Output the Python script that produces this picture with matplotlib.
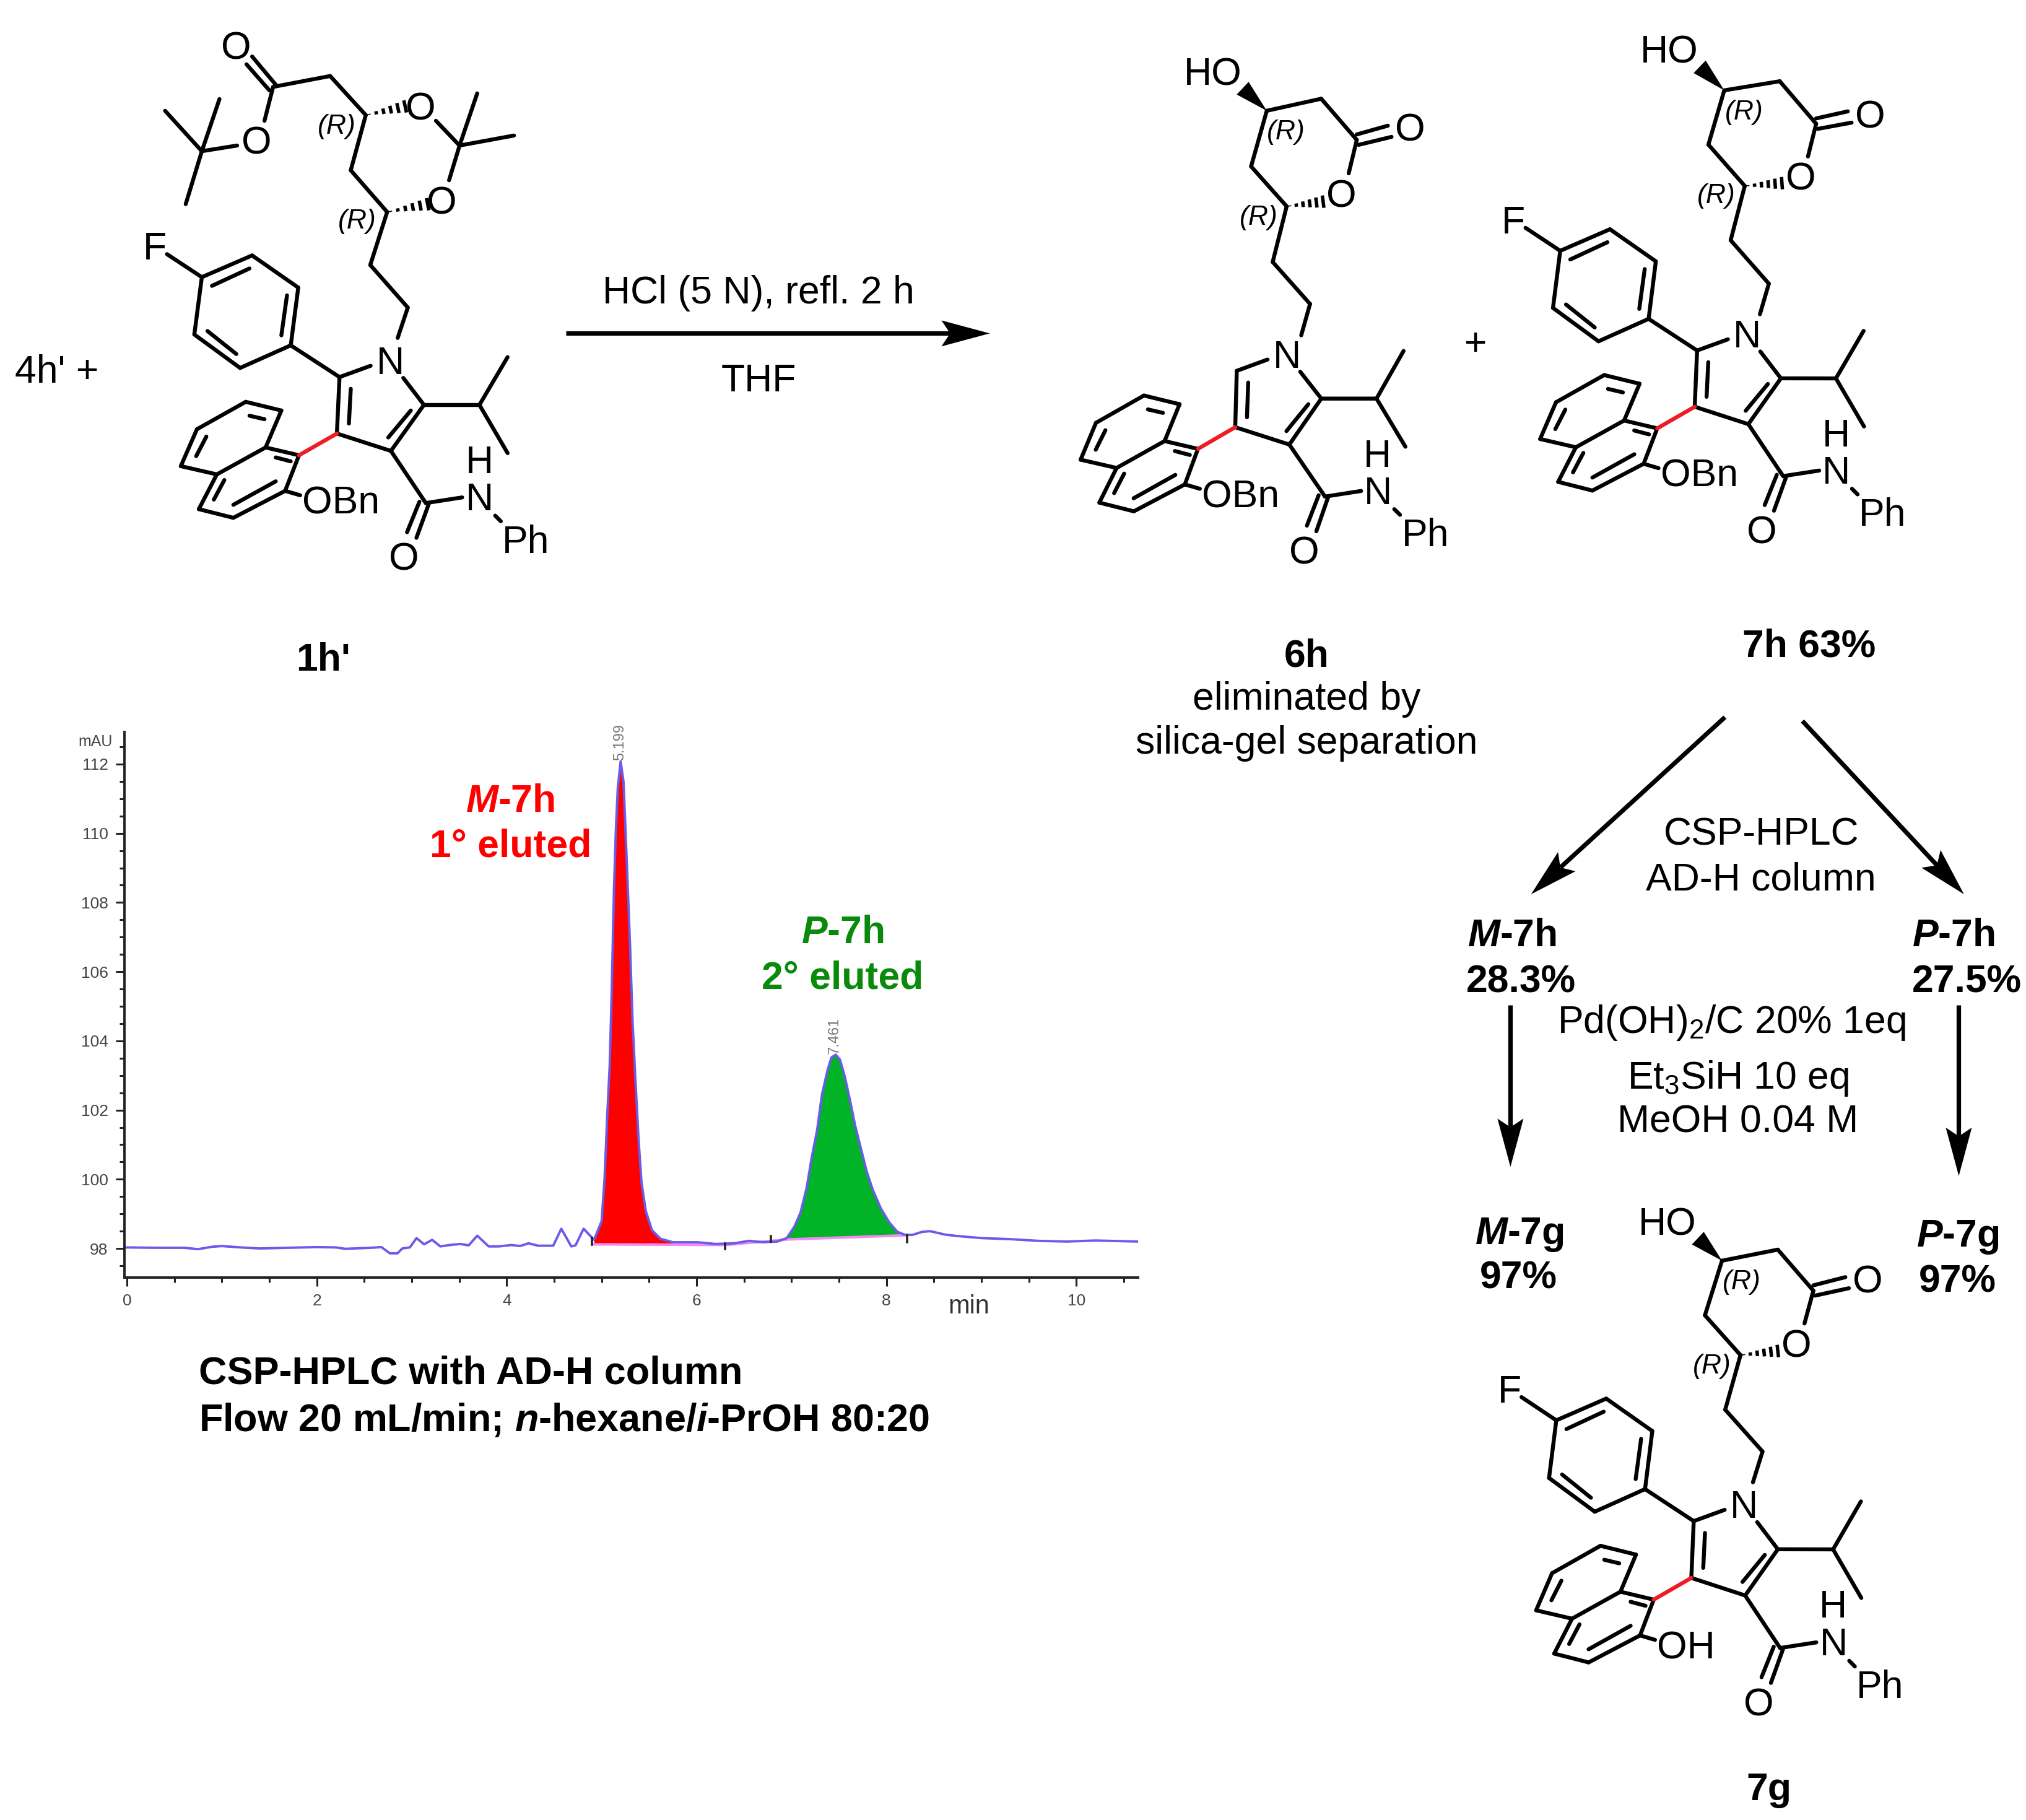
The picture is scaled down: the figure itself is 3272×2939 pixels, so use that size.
import matplotlib
matplotlib.use('Agg')
import matplotlib.pyplot as plt
import numpy as np
from matplotlib.patches import Polygon
from matplotlib.ticker import MultipleLocator

plt.rcParams['font.family'] = ['Liberation Sans', 'DejaVu Sans']
plt.rcParams['mathtext.fontset'] = 'custom'
plt.rcParams['mathtext.default'] = 'regular'
plt.rcParams['mathtext.rm'] = 'Liberation Sans'
plt.rcParams['mathtext.it'] = 'Liberation Sans:italic'
plt.rcParams['mathtext.bf'] = 'Liberation Sans:bold'
plt.rcParams['mathtext.bfit'] = 'Liberation Sans:italic:bold'

# chromatogram
time_min = [0, .3, .6, .75, .9, 1.0, 1.2, 1.4, 1.7, 2.0, 2.2, 2.3, 2.575, 2.68, 2.77, 2.85, 2.90, 2.98, 3.05, 3.13,
            3.215, 3.30, 3.40, 3.51, 3.60, 3.69, 3.81, 3.92, 4.05, 4.14, 4.23, 4.33, 4.49, 4.575, 4.68, 4.725, 4.81,
            4.92, 5.0, 5.03, 5.06, 5.085, 5.105, 5.13, 5.15, 5.17, 5.2, 5.23, 5.26, 5.30, 5.325, 5.355, 5.39, 5.42,
            5.465, 5.53, 5.62, 5.75, 6.01, 6.2, 6.4, 6.55, 6.7, 6.85, 6.95, 7.03, 7.095, 7.16, 7.21, 7.27, 7.32, 7.38,
            7.42, 7.465, 7.51, 7.56, 7.62, 7.67, 7.725, 7.79, 7.855, 7.94, 8.03, 8.115, 8.19, 8.27, 8.375, 8.46, 8.62,
            8.745, 9.0, 9.3, 9.6, 9.9, 10.2, 10.65]
signal_mau = [98.03, 98.02, 98.02, 97.98, 98.05, 98.07, 98.03, 98.0, 98.02, 98.04, 98.03, 97.99, 98.02, 98.04, 97.86,
              97.86, 98.0, 98.03, 98.3, 98.12, 98.25, 98.06, 98.1, 98.13, 98.09, 98.37, 98.06, 98.06, 98.1, 98.07,
              98.15, 98.08, 98.08, 98.57, 98.06, 98.09, 98.57, 98.25, 98.79, 99.98, 101.9, 103.3, 105.3, 108.4, 110.1,
              111.3, 112.08, 111.5, 109.5, 106.7, 104.6, 102.9, 101.1, 99.9, 99.08, 98.53, 98.28, 98.18, 98.18, 98.13,
              98.15, 98.22, 98.18, 98.2, 98.3, 98.63, 99.04, 99.76, 100.59, 101.43, 102.44, 103.16, 103.52, 103.6,
              103.46, 102.98, 102.23, 101.55, 100.95, 100.24, 99.7, 99.16, 98.75, 98.48, 98.4, 98.39, 98.48, 98.5,
              98.4, 98.36, 98.3, 98.27, 98.22, 98.2, 98.23, 98.2]
peak_times = [5.199, 7.461]
peak_labels = ['5.199', '7.461']
peak_tops = [112.08, 103.6]
integration_marks = [4.9, 6.3, 6.78, 8.22]

# structure coordinates, lower half traced from 1h'
CORE = [(905, 868), (1130, 932), (898, 998), (1042, 1038), (1402, 1240), (482, 1073), (1077, 1280), (413, 565)]
CORE_BONDS = [[(905, 868), (988, 842)], [(1075, 870), (1130, 932)], [(1130, 932), (1042, 1038)],
              [(1095, 945), (1035, 1007)], [(1042, 1038), (898, 998)], [(898, 998), (905, 868)],
              [(930, 975), (935, 895)], [(1130, 932), (1278, 932)], [(1278, 932), (1353, 822)],
              [(1278, 932), (1353, 1043)], [(1042, 1038), (1135, 1158)], [(1143, 1160), (1110, 1238)],
              [(1118, 1155), (1085, 1225)], [(1135, 1158), (1232, 1145)], [(1320, 1187), (1335, 1200)],
              [(797, 1048), (708, 1030)], [(708, 1030), (750, 945)], [(750, 945), (655, 925)],
              [(655, 925), (525, 988)], [(525, 988), (482, 1073)], [(482, 1073), (578, 1092)],
              [(578, 1092), (708, 1030)], [(578, 1092), (530, 1172)], [(530, 1172), (622, 1192)],
              [(622, 1192), (760, 1130)], [(760, 1130), (797, 1048)], [(665, 957), (705, 965)],
              [(523, 1050), (550, 1005)], [(735, 1053), (775, 1062)], [(570, 1150), (598, 1105)],
              [(622, 1162), (735, 1108)], [(760, 1130), (800, 1140)]]
ARYL_BONDS = [[(445, 585), (538, 638)], [(538, 638), (672, 588)], [(672, 588), (795, 662)], [(795, 662), (775, 795)],
              [(775, 795), (640, 847)], [(640, 847), (518, 770)], [(518, 770), (538, 638)], [(565, 658), (665, 618)],
              [(765, 680), (750, 772)], [(630, 815), (553, 762)], [(775, 795), (905, 868)]]
RED_BOND = [(898, 998), (797, 1048)]
CORE_LABELS = {'N': (1040, 828), 'H': (1278, 1056), 'N2': (1278, 1142), 'Ph': (1402, 1240), 'O': (1077, 1280)}

# lactone traced from 7g
LACTONE = [(838, 205), (1095, 278), (890, 435)]
LACTONE_BONDS = [[(838, 205), (995, 178)], [(995, 178), (1095, 278)], [(1095, 265), (1185, 245)],
                 [(1100, 290), (1195, 272)], [(1095, 278), (1070, 358)], [(890, 435), (790, 338)],
                 [(790, 338), (838, 205)], [(890, 435), (847, 568)], [(847, 568), (952, 670)],
                 [(952, 670), (925, 745)]]

# ester/acetonide part of 1h'
TOP_BONDS = [[(735, 195), (672, 130)], [(718, 208), (657, 148)], [(728, 200), (880, 175)], [(880, 175), (975, 265)],
             [(975, 265), (935, 392)], [(935, 392), (1032, 488)], [(1032, 488), (987, 610)], [(987, 610), (1087, 708)],
             [(1087, 708), (1060, 778)], [(728, 200), (705, 278)], [(632, 335), (538, 348)], [(538, 348), (440, 255)],
             [(538, 348), (585, 228)], [(538, 348), (495, 470)], [(1162, 278), (1225, 335)], [(1225, 335), (1272, 215)],
             [(1225, 335), (1370, 312)], [(1225, 335), (1197, 415)]]


def z2(p):
    p = np.atleast_2d(p)
    return np.c_[p[:, 0] / 1.6505, p[:, 1] / 1.4255]


def z3(p):
    p = np.atleast_2d(p)
    return np.c_[1700 + p[:, 0] / .9975, p[:, 1] / 1.4255]


def z4(p):
    p = np.atleast_2d(p)
    return np.c_[2300 + p[:, 0] / 1.742, 1900 + p[:, 1] / 1.509]


def fit_map(src, dst):
    # affine map from template coordinates to picture pixels
    src = np.array(src, dtype=float)
    A = np.c_[src, np.ones(len(src))]
    M, _, _, _ = np.linalg.lstsq(A, np.array(dst, dtype=float), rcond=None)
    return lambda p: np.c_[np.atleast_2d(p), np.ones(len(np.atleast_2d(p)))] @ M


fig = plt.figure(figsize=(32.72, 29.39), dpi=100, facecolor='white')

# chromatogram
ax = fig.add_axes([201 / 3272, 1 - 2063 / 2939, (1838 - 201) / 3272, (2063 - 1182) / 2939])
t = np.array(time_min)
s = np.array(signal_mau)
m1 = (t >= 4.92) & (t <= 5.75)
m2 = (t >= 6.95) & (t <= 8.19)
ax.fill_between(t[m1], s[m1], 98.13, color='#ff0000', lw=0)
ax.fill_between(t[m2], s[m2], np.linspace(98.27, 98.38, m2.sum()), color='#00b327', lw=0)
ax.plot([4.92, 6.3, 6.95, 8.19], [98.12, 98.1, 98.26, 98.38], color='#f08cf0', lw=3)
ax.plot(t, s, color='#6a5ce8', lw=2.8)
for mark in integration_marks:
    lo, hi = (98.1, 98.3) if mark < 5 else (97.98, 98.14) if mark < 6.5 else (98.2, 98.36) if mark < 8 else (98.18, 98.38)
    ax.plot([mark, mark], [lo, hi], color='#222222', lw=2.6)
for pt, lab, top in zip(peak_times, peak_labels, peak_tops):
    ax.text(pt - .01, top + .02, lab, rotation=90, ha='center', va='bottom', fontsize=17, color='#777777')
ax.set_xlim(-0.026, 10.65)
ax.set_ylim(97.16, 112.93)
ax.xaxis.set_major_locator(MultipleLocator(2))
ax.xaxis.set_minor_locator(MultipleLocator(.5))
ax.yaxis.set_major_locator(MultipleLocator(2))
ax.yaxis.set_minor_locator(MultipleLocator(.5))
ax.tick_params(which='major', length=10, width=2.2, labelsize=19, labelcolor='#444444', color='#222222', pad=9)
ax.tick_params(which='minor', length=6, width=2.2, color='#222222')
ax.spines['top'].set_visible(False)
ax.spines['right'].set_visible(False)
for sp in ['left', 'bottom']:
    ax.spines[sp].set_linewidth(2.8)
    ax.spines[sp].set_color('#222222')

# scheme overlay, in picture pixels
sk = fig.add_axes([0, 0, 1, 1], zorder=5)
sk.set_xlim(0, 3272)
sk.set_ylim(2939, 0)
sk.axis('off')
sk.patch.set_alpha(0)

BOND_LW = 4.6
FS_ATOM = 45
FS_MAIN = 45


def bonds(seglist, fn, color='black'):
    for seg in seglist:
        pts = fn(seg)
        sk.plot(pts[:, 0], pts[:, 1], color=color, lw=BOND_LW, solid_capstyle='round')


def hashed(a, b, n=6, half=10):
    a = np.array(a, dtype=float).ravel()
    b = np.array(b, dtype=float).ravel()
    u = (b - a) / np.linalg.norm(b - a)
    nrm = np.array([-u[1], u[0]])
    for f in np.linspace(.08, 1, n):
        c = a + (b - a) * f
        p = np.array([c - nrm * half * f, c + nrm * half * f])
        sk.plot(p[:, 0], p[:, 1], color='black', lw=4, solid_capstyle='butt')


def wedge(a, b, half=14):
    a = np.array(a, dtype=float).ravel()
    b = np.array(b, dtype=float).ravel()
    u = (b - a) / np.linalg.norm(b - a)
    nrm = np.array([-u[1], u[0]])
    sk.add_patch(Polygon([a, b - nrm * half, b + nrm * half], closed=True, color='black', lw=0))


def label(txt, p, fs=FS_ATOM, ha='center', **kw):
    p = np.array(p, dtype=float).ravel()
    sk.text(p[0], p[1], txt, fontsize=fs, ha=ha, va='center_baseline', **kw)


def draw_core(fn, aryl=True, oh_label='OBn'):
    bonds(CORE_BONDS, fn)
    bonds([RED_BOND], fn, color='#ee1c25')
    if aryl:
        bonds(ARYL_BONDS, fn)
        label('F', fn((413, 565)))
    for k, p in CORE_LABELS.items():
        label(k[0] if k != 'Ph' else 'Ph', fn(p))
    label(oh_label, fn((805, 1150)), ha='left')


def draw_lactone(fn):
    bonds(LACTONE_BONDS, fn)
    wedge(fn((838, 205)), fn((770, 150)))
    hashed(fn((890, 435)), fn((995, 425)))
    label('HO', fn((685, 108)))
    label('O', fn((1248, 248)))
    label('O', fn((1048, 405)))
    label('(R)', fn((893, 250)), fs=32, style='italic')
    label('(R)', fn((810, 455)), fs=32, style='italic')


# 1h'
bonds(TOP_BONDS, z2)
hashed(z2((975, 265)), z2((1080, 245)))
hashed(z2((1032, 488)), z2((1140, 470)))
label('O', z2((630, 103)))
label('O', z2((683, 322)))
label('O', z2((1122, 243)))
label('O', z2((1177, 460)))
label('(R)', z2((898, 285)), fs=32, style='italic')
label('(R)', z2((952, 503)), fs=32, style='italic')
draw_core(z2)

# 6h
core_6h = fit_map(CORE[:-1], z3([(295, 853), (433, 918), (295, 985), (383, 1022), (600, 1225), (45, 1058), (405, 1265)]))
draw_core(core_6h, aryl=False)
lac_6h = fit_map(LACTONE, z3([(345, 255), (490, 322), (377, 475)]))
draw_lactone(lac_6h)

# 7h
core_7h = fit_map(CORE, z3([(1035, 803), (1172, 873), (1035, 938), (1120, 975), (1340, 1180), (785, 1012), (1142, 1215), (745, 505)]))
draw_core(core_7h)
lac_7h = fit_map(LACTONE, z3([(1082, 208), (1230, 285), (1115, 428)]))
draw_lactone(lac_7h)

# 7g
core_7g = fit_map(CORE, z4([(752, 838), (995, 908), (752, 978), (905, 1020), (1285, 1238), (315, 1057), (940, 1278), (243, 517)]))
draw_core(core_7g, oh_label='OH')
draw_lactone(z4)


def d(x, y):
    # position at 1568 px wide
    return np.array([x * 3272 / 1568, y * 3272 / 1568])


def arrow(a, b, head=78, half=21, notch=14):
    a, b = d(*a), d(*b)
    u = (b - a) / np.linalg.norm(b - a)
    nrm = np.array([-u[1], u[0]])
    neck = b - u * (head - notch)
    sk.plot([a[0], neck[0]], [a[1], neck[1]], color='black', lw=BOND_LW + .6, solid_capstyle='butt')
    tail = b - u * head
    sk.add_patch(Polygon([b, tail + nrm * half, neck, tail - nrm * half], closed=True, color='black', lw=0))


arrow((438, 258), (766, 258))
arrow((1335, 555), (1185, 692))
arrow((1395, 558), (1520, 692))
arrow((1169, 778), (1169, 903))
arrow((1516, 778), (1516, 910))

plain = [("4h' +", 44, 285), ('HCl (5 N), refl. 2 h', 587, 224), ('THF', 587, 292), ('eliminated by', 1011, 538),
         ('silica-gel separation', 1011, 572), ('+', 1142, 264), ('CSP-HPLC', 1363, 643), ('AD-H column', 1363, 678),
         ('Pd(OH)$_2$/C 20% 1eq', 1340, 788), ('Et$_3$SiH 10 eq', 1345, 831), ('MeOH 0.04 M', 1345, 865)]
for txt, x, y in plain:
    label(txt, d(x, y), fs=FS_MAIN)

heavy = [("1h'", 250, 508), ('6h', 1011, 505), ('7h 63%', 1400, 497), (r'$\mathbfit{M}$-7h', 1170, 721),
         ('28.3%', 1177, 757), (r'$\mathbfit{P}$-7h', 1512, 721), ('27.5%', 1522, 757),
         (r'$\mathbfit{M}$-7g', 1176, 952), ('97%', 1175, 986), (r'$\mathbfit{P}$-7g', 1515, 954), ('97%', 1515, 989),
         ('7g', 1369, 1382)]
for txt, x, y in heavy:
    label(txt, d(x, y), fs=FS_MAIN, fontweight='bold')

label(r'$\mathbfit{M}$-7h', d(395, 617), fs=FS_MAIN, fontweight='bold', color='#ff0000')
label('1° eluted', d(395, 652), fs=FS_MAIN, fontweight='bold', color='#ff0000')
label(r'$\mathbfit{P}$-7h', d(652, 719), fs=FS_MAIN, fontweight='bold', color='#0a8a0a')
label('2° eluted', d(652, 754), fs=FS_MAIN, fontweight='bold', color='#0a8a0a')
label('CSP-HPLC with AD-H column', d(154, 1060), fs=FS_MAIN + .3, fontweight='bold', ha='left')
label(r'Flow 20 mL/min; $\mathbfit{n}$-hexane/$\mathbfit{i}$-PrOH 80:20', d(154, 1096), fs=FS_MAIN + .3, fontweight='bold', ha='left')
label('min', d(750, 1009), fs=30, color='#333333')
label('mAU', d(74, 573), fs=18, color='#444444')

fig.savefig('out.png', dpi=100)
